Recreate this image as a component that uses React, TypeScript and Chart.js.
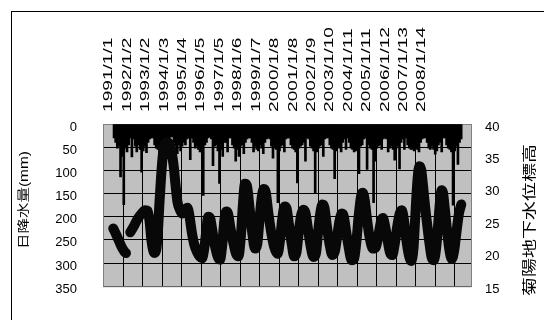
import { useEffect, useRef } from "react";
import { Chart, registerables } from "chart.js";

Chart.register(...registerables);

const FONT = "'Liberation Sans', Arial, 'Noto Sans CJK JP', sans-serif";

// ---- tick labels (top date axis) ----
const dateLabels = [
  "1991/1/1", "1992/1/2", "1993/1/2", "1994/1/3", "1995/1/4", "1996/1/5",
  "1997/1/5", "1998/1/6", "1999/1/7", "2000/1/8", "2001/1/8", "2002/1/9",
  "2003/1/10", "2004/1/11", "2005/1/11", "2006/1/12", "2007/1/13", "2008/1/14",
];
// day offsets (from 1991/1/1) of the gridlines
const gridDays = [
  0, 366, 732, 1098, 1464, 1830, 2196, 2562, 2928, 3294, 3660, 4026,
  4392, 4758, 5124, 5490, 5856, 6222,
];
const lastDay = 6540;

const leftTitle = "日降水量(mm)";
const rightTitle = "菊陽地下水位標高";

// ---- daily rainfall: largest daily value in each month, 1991/1 .. 2008/11 (mm) ----
const rainMonthlyMax = [
  // 1991
  30, 40, 52, 48, 114, 70, 174, 52, 60, 45, 30, 71,
  // 1992
  32, 48, 60, 45, 55, 104, 58, 48, 62, 40, 32, 30,
  // 1993
  30, 45, 52, 55, 65, 58, 71, 60, 52, 40, 32, 28,
  // 1994
  28, 40, 48, 64, 45, 58, 48, 40, 45, 32, 30, 77,
  // 1995
  30, 40, 52, 48, 55, 60, 60, 154, 45, 40, 30, 28,
  // 1996
  32, 90, 48, 45, 58, 128, 55, 70, 40, 40, 60, 30,
  // 1997
  30, 45, 52, 80, 55, 70, 48, 45, 64, 40, 32, 30,
  // 1998
  30, 40, 60, 48, 55, 58, 45, 52, 64, 40, 32, 30,
  // 1999
  32, 48, 74, 52, 55, 170, 58, 48, 45, 60, 32, 30,
  // 2000
  30, 45, 52, 55, 60, 127, 52, 48, 45, 40, 80, 30,
  // 2001
  32, 48, 52, 58, 150, 60, 52, 48, 45, 70, 32, 30,
  // 2002
  30, 45, 52, 55, 118, 58, 48, 52, 60, 40, 32, 55,
  // 2003
  30, 40, 52, 55, 60, 58, 52, 107, 48, 45, 32, 30,
  // 2004
  98, 45, 52, 55, 170, 80, 52, 48, 45, 55, 32, 30,
  // 2005
  32, 60, 52, 48, 55, 78, 52, 48, 97, 40, 32, 55,
  // 2006
  30, 45, 52, 55, 55, 58, 52, 55, 60, 40, 32, 30,
  // 2007
  30, 40, 52, 55, 48, 55, 65, 58, 45, 40, 60, 30,
  // 2008
  30, 45, 52, 55, 60, 175, 58, 48, 87, 40, 32,
];

// ---- groundwater level (right axis), day offset from 1991/1/1 ----
const gwDays = [
  0, 53, 106, 160, 213, 239, 280,
  319, 390, 461, 532, 603, 647, 682, 718, 771, 806, 842, 868, 895, 922, 957,
  1010, 1063, 1099, 1134, 1170, 1205, 1250, 1294, 1347, 1391, 1427, 1471,
  1524, 1577, 1631, 1666, 1702, 1746, 1781, 1817, 1861, 1914, 1967, 2003,
  2047, 2083, 2118, 2153, 2198, 2251, 2304, 2348, 2393, 2437, 2472, 2508,
  2552, 2605, 2659, 2703, 2747, 2792, 2827, 2862, 2907, 2960, 3022, 3084,
  3128, 3173, 3217, 3252, 3297, 3350, 3394, 3438, 3483, 3527, 3571, 3607,
  3651, 3704, 3757, 3802, 3846, 3890, 3926, 3961, 4005, 4059, 4112, 4156,
  4200, 4245, 4289, 4325, 4369, 4422, 4475, 4520, 4564, 4608, 4653, 4679,
  4715, 4759, 4812, 4874, 4927, 4980, 5025, 5060, 5096, 5140, 5193, 5237,
  5282, 5335, 5379, 5415, 5450, 5494, 5548, 5592, 5636, 5663, 5690, 5716,
  5743, 5778, 5813, 5849, 5884, 5928, 5973, 6017, 6061, 6097, 6132, 6159,
  6186, 6221, 6265, 6310, 6354, 6398, 6443, 6487, 6531,
];
const gwLevel = [
  23.9, 23.0, 22.0, 21.0, 20.3, 20.1, null,
  23.3, 24.3, 25.4, 26.2, 26.7, 26.6, 25.0, 22.0, 20.1, 20.6, 24.0, 28.0, 31.5, 34.5, 36.6,
  37.2, 36.8, 35.5, 33.5, 30.5, 28.0, 26.8, 26.2, 26.8, 27.1, 26.0, 23.5,
  21.3, 20.2, 19.5, 19.3, 20.5, 23.5, 25.7, 25.5, 23.5, 21.0, 19.4, 19.1,
  21.5, 25.0, 26.5, 26.2, 24.0, 21.8, 20.0, 19.6, 22.5, 28.0, 30.8, 30.5,
  27.5, 23.5, 20.8, 21.5, 25.5, 29.0, 30.0, 29.5, 26.5, 23.5, 21.0, 20.0,
  22.0, 25.5, 27.3, 27.0, 24.5, 21.5, 19.6, 20.2, 23.5, 26.0, 26.8, 26.3,
  24.0, 21.2, 19.5, 20.0, 23.5, 26.5, 27.6, 27.2, 24.5, 21.5, 19.8, 20.3,
  22.5, 25.0, 26.2, 25.8, 23.5, 20.8, 19.0, 19.2, 22.0, 26.0, 29.0, 29.4,
  28.5, 25.5, 22.5, 20.8, 21.0, 23.0, 25.0, 25.5, 24.5, 22.5, 20.2, 19.8,
  21.5, 24.5, 26.3, 26.7, 25.5, 22.5, 19.8, 18.9, 21.0, 25.0, 29.0, 32.0,
  33.5, 33.0, 30.5, 27.5, 25.0, 22.0, 19.5, 19.0, 21.0, 24.5, 28.0, 29.8,
  29.5, 27.0, 23.5, 20.5, 19.2, 20.5, 23.5, 26.2, 27.6,
];

// ---- layout ----
const W = 544;
const H = 320;
const PLOT = { left: 103, right: 472, top: 124, bottom: 299 };

function drawStretched(
  ctx: CanvasRenderingContext2D,
  text: string,
  x: number,
  y: number,
  fontPx: number,
  stretch: number,
  align: CanvasTextAlign
) {
  ctx.save();
  ctx.font = `${fontPx}px ${FONT}`;
  ctx.translate(x, y);
  ctx.rotate(-Math.PI / 2);
  ctx.scale(stretch, 1);
  ctx.textAlign = align;
  ctx.textBaseline = "middle";
  ctx.fillStyle = "#000";
  ctx.fillText(text, 0, 0);
  ctx.restore();
}

function stretchFor(ctx: CanvasRenderingContext2D, text: string, fontPx: number, length: number) {
  ctx.save();
  ctx.font = `${fontPx}px ${FONT}`;
  const w = ctx.measureText(text).width;
  ctx.restore();
  return length / w;
}

export default function App() {
  const ref = useRef<HTMLCanvasElement>(null);

  useEffect(() => {
    const canvas = ref.current!;
    const rainData = rainMonthlyMax.map((v, i) => ({ x: i * 30.44 + 15, y: v }));
    const gwData = gwDays.map((d, i) => ({ x: d, y: gwLevel[i] }));

    // label axis: label k centred at firstLabel + k * labelStep
    const labelStep = 19.5;
    const firstLabel = 98.6;
    const span = (PLOT.right - PLOT.left) / labelStep;
    const xlMin = -(firstLabel - PLOT.left) / labelStep;

    const framePlugin = {
      id: "frame",
      beforeDraw(chart: any) {
        const { ctx, chartArea: a } = chart;
        ctx.save();
        ctx.fillStyle = "#fff";
        ctx.fillRect(0, 0, chart.width, chart.height);
        ctx.strokeStyle = "#000";
        ctx.lineWidth = 1;
        ctx.strokeRect(11.5, 11.5, chart.width + 20, chart.height + 20);
        ctx.fillStyle = "#c0c0c0";
        ctx.fillRect(a.left, a.top, a.right - a.left, a.bottom - a.top);
        ctx.restore();
      },
      beforeDatasetsDraw(chart: any) {
        const { ctx, chartArea: a } = chart;
        ctx.save();
        ctx.strokeStyle = "#808080";
        ctx.lineWidth = 1;
        ctx.strokeRect(a.left + 0.5, a.top + 0.5, a.right - a.left - 1, a.bottom - a.top);
        ctx.restore();
      },
      afterDraw(chart: any) {
        const ctx = chart.ctx as CanvasRenderingContext2D;
        // date labels on the top axis (Excel-style stretched vertical text)
        const xl = chart.scales.xl;
        const s = stretchFor(ctx, "2003/1/10", 12, 85);
        dateLabels.forEach((lab, k) => {
          drawStretched(ctx, lab, xl.getPixelForValue(k), 112, 12, s, "left");
        });
        // axis titles
        const sl = stretchFor(ctx, leftTitle, 12, 98);
        drawStretched(ctx, leftTitle, 25, 200, 12, sl, "center");
        const sr = stretchFor(ctx, rightTitle, 14, 152);
        drawStretched(ctx, rightTitle, 530, 220, 14, sr, "center");
      },
    };

    const tickFont = { family: FONT, size: 13 };

    const chart = new Chart(canvas, {
      type: "bar",
      data: {
        datasets: [
          {
            type: "line",
            data: gwData as any,
            xAxisID: "x",
            yAxisID: "y2",
            borderColor: "#080808",
            borderWidth: 10,
            pointRadius: 0,
            borderCapStyle: "round",
            borderJoinStyle: "round",
            cubicInterpolationMode: "monotone",
            spanGaps: false,
            clip: 5,
            order: 0,
          } as any,
          {
            type: "bar",
            data: rainData as any,
            xAxisID: "x",
            yAxisID: "y",
            backgroundColor: "#000",
            barThickness: 2,
            order: 1,
          } as any,
        ],
      },
      options: {
        responsive: false,
        animation: false,
        events: [],
        layout: { padding: { left: 0, right: 0, top: 0, bottom: H - PLOT.bottom } },
        plugins: { legend: { display: false }, tooltip: { enabled: false } },
        scales: {
          x: {
            type: "linear",
            position: "bottom",
            min: 0,
            max: lastDay,
            afterBuildTicks: (s: any) => {
              s.ticks = gridDays.map((v) => ({ value: v }));
            },
            afterFit: (s: any) => {
              s.height = 0;
            },
            ticks: { display: false },
            grid: { color: "#000", lineWidth: 1, drawTicks: false },
            border: { display: false },
          },
          xl: {
            type: "linear",
            position: "top",
            min: xlMin,
            max: xlMin + span,
            afterBuildTicks: (s: any) => {
              s.ticks = dateLabels.map((_, i) => ({ value: i }));
            },
            afterFit: (s: any) => {
              s.height = PLOT.top;
            },
            grid: { display: false, drawTicks: false },
            border: { display: false },
            ticks: { display: false },
          },
          y: {
            type: "linear",
            position: "left",
            reverse: true,
            min: 0,
            max: 350,
            afterFit: (s: any) => {
              s.width = PLOT.left;
            },
            ticks: { stepSize: 50, padding: 26, labelOffset: 3, color: "#000", font: tickFont },
            grid: { color: "#000", lineWidth: 1, drawTicks: false },
            border: { display: false },
          },
          y2: {
            type: "linear",
            position: "right",
            min: 15,
            max: 40,
            afterFit: (s: any) => {
              s.width = W - PLOT.right;
            },
            ticks: { stepSize: 5, padding: 13, labelOffset: 3, color: "#000", font: tickFont },
            grid: { display: false, drawTicks: false },
            border: { display: false },
          },
        } as any,
      },
      plugins: [framePlugin],
    });

    return () => chart.destroy();
  }, []);

  return (
    <div style={{ position: "fixed", left: 0, top: 0, width: W, height: H, background: "#fff" }}>
      <canvas ref={ref} width={W} height={H} style={{ display: "block", width: W, height: H }} />
    </div>
  );
}
